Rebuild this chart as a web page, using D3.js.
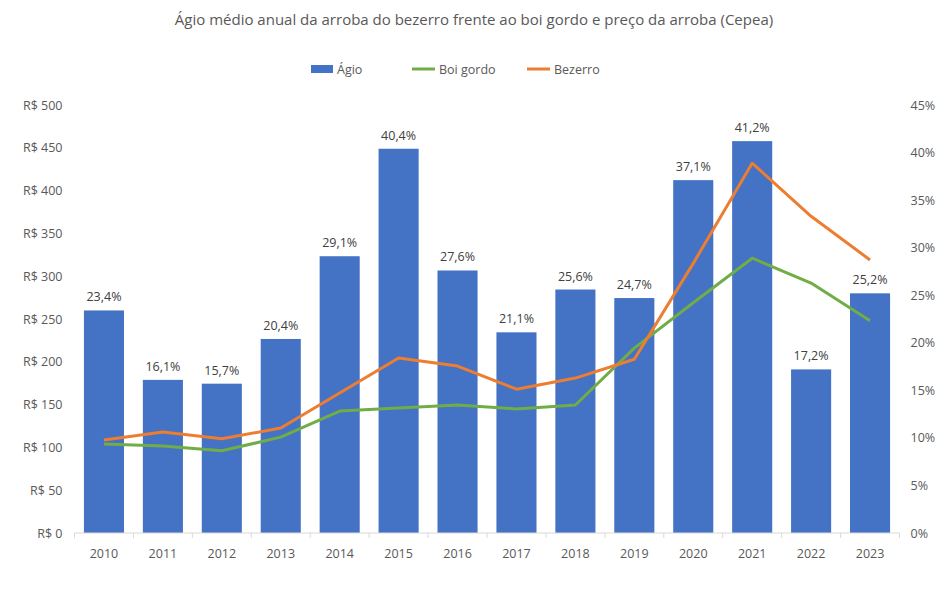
<!DOCTYPE html>
<html><head><meta charset="utf-8">
<script src="https://cdn.jsdelivr.net/npm/d3@7"></script>
<style>
body{margin:0;background:#fff;}
text{font-family:"Liberation Sans Narrow","Open Sans","Noto Sans",sans-serif;}
</style></head>
<body><svg id="c" width="948" height="590"></svg>
<script>
const years = ["2010","2011","2012","2013","2014","2015","2016","2017","2018","2019","2020","2021","2022","2023"];
const agio = [23.4,16.1,15.7,20.4,29.1,40.4,27.6,21.1,25.6,24.7,37.1,41.2,17.2,25.2];
const boiGordo = [104,101.6,96,112,142.5,146,149.5,145,149.5,216,269,321,292,248];
const bezerro = [108.6,118,110,122.7,163.5,204.4,195,168,181,203,315,432,370,319];
const leftTicks = [0,50,100,150,200,250,300,350,400,450,500];
const rightTicks = [0,5,10,15,20,25,30,35,40,45];

const svg = d3.select("#c");
const W = 948, H = 590;
svg.append("rect").attr("width",W).attr("height",H).attr("fill","#fff");
const x0 = 74.5, x1 = 899.5, yTop = 105, yBot = 533;
const x = d3.scaleBand().domain(years).range([x0,x1]).paddingInner(0.32).paddingOuter(0.16);
const yL = d3.scaleLinear().domain([0,500]).range([yBot,yTop]);
const yR = d3.scaleLinear().domain([0,45]).range([yBot,yTop]);
const txt = "#595959";
const font = "Open Sans";

// title
svg.append("text").attr("x",W/2).attr("y",25).attr("text-anchor","middle")
  .attr("font-size",15).attr("fill",txt).attr("font-family",font)
  .text("Ágio médio anual da arroba do bezerro frente ao boi gordo e preço da arroba (Cepea)");

// legend
const lg = svg.append("g").attr("font-size",12.5).attr("fill",txt).attr("font-family",font);
lg.append("rect").attr("x",311).attr("y",65).attr("width",22).attr("height",8).attr("fill","#4472C4");
lg.append("text").attr("x",337).attr("y",73.5).text("Ágio").attr("fill",txt);
lg.append("line").attr("x1",412).attr("x2",435).attr("y1",69).attr("y2",69).attr("stroke","#70AD47").attr("stroke-width",3);
lg.append("text").attr("x",439).attr("y",73.5).text("Boi gordo").attr("fill",txt);
lg.append("line").attr("x1",527).attr("x2",550).attr("y1",69).attr("y2",69).attr("stroke","#ED7D31").attr("stroke-width",3);
lg.append("text").attr("x",554).attr("y",73.5).text("Bezerro").attr("fill",txt);

// left axis
const la = svg.append("g").attr("transform",`translate(${x0},0)`)
  .call(d3.axisLeft(yL).tickValues(leftTicks).tickSize(0).tickPadding(12).tickFormat(d=>"R$ "+d));
la.select(".domain").remove();
la.selectAll("text").attr("font-size",12.5).attr("fill",txt).attr("font-family",font);

// right axis
const ra = svg.append("g").attr("transform",`translate(${x1},0)`)
  .call(d3.axisRight(yR).tickValues(rightTicks).tickSize(0).tickPadding(11).tickFormat(d=>d+"%"));
ra.select(".domain").remove();
ra.selectAll("text").attr("font-size",12.5).attr("fill",txt).attr("font-family",font);

// bars
svg.append("g").selectAll("rect").data(agio).join("rect")
  .attr("x",(d,i)=>x(years[i])).attr("width",x.bandwidth())
  .attr("y",d=>yR(d)).attr("height",d=>yBot-yR(d)).attr("fill","#4472C4");

// x axis
const bandStep = x.step();
const xa = svg.append("g").attr("transform",`translate(0,${yBot})`);
xa.append("line").attr("x1",x0).attr("x2",x1).attr("stroke","#d9d9d9").attr("stroke-width",1);
const tickPos = d3.range(years.length+1).map(i=>x0+i*bandStep);
xa.selectAll(".tk").data(tickPos).join("line").attr("class","tk")
  .attr("x1",d=>d).attr("x2",d=>d).attr("y1",0).attr("y2",5).attr("stroke","#d9d9d9");
xa.selectAll(".lb").data(years).join("text").attr("class","lb")
  .attr("x",d=>x(d)+x.bandwidth()/2).attr("y",25).attr("text-anchor","middle")
  .attr("font-size",12.5).attr("fill",txt).attr("font-family",font).text(d=>d);

// lines
const line = d3.line().x((d,i)=>x(years[i])+x.bandwidth()/2).y(d=>yL(d));
svg.append("path").datum(boiGordo).attr("d",line).attr("fill","none").attr("stroke","#70AD47").attr("stroke-width",3).attr("stroke-linejoin","round");
svg.append("path").datum(bezerro).attr("d",line).attr("fill","none").attr("stroke","#ED7D31").attr("stroke-width",3).attr("stroke-linejoin","round");

// data labels
svg.append("g").selectAll("text").data(agio).join("text")
  .attr("x",(d,i)=>x(years[i])+x.bandwidth()/2).attr("y",d=>yR(d)-9)
  .attr("text-anchor","middle").attr("font-size",12.5).attr("fill","#404040").attr("font-family",font)
  .text(d=>d.toFixed(1).replace(".",",")+"%");
</script></body></html>
